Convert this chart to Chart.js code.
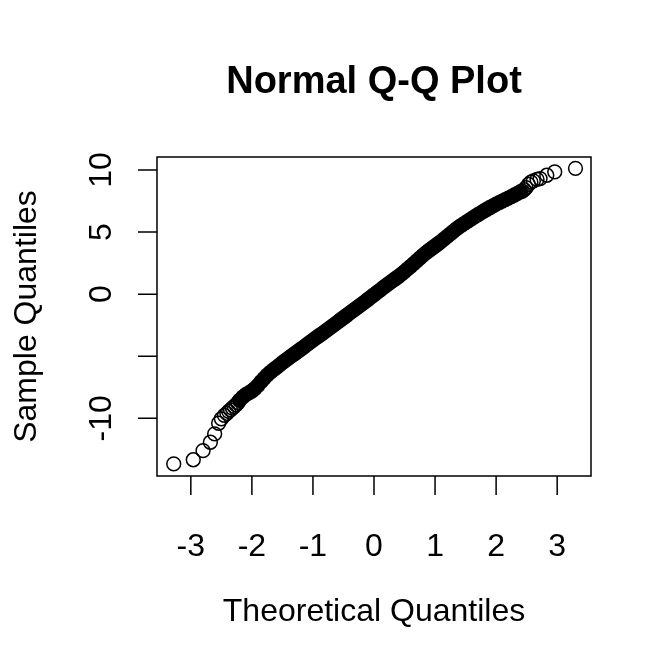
<!DOCTYPE html>
<html>
<head>
<meta charset="utf-8">
<script src="https://cdn.jsdelivr.net/npm/chart.js@4.4.1/dist/chart.umd.min.js"></script>
<style>
html,body{margin:0;padding:0;background:#fff;}
canvas{display:block;}
</style>
</head>
<body>
<canvas id="c" width="672" height="672"></canvas>
<script>
// ---- Data ----
const chartTitle = 'Normal Q-Q Plot';
const xAxisTitle = 'Theoretical Quantiles';
const yAxisTitle = 'Sample Quantiles';

const xTicks = [-3, -2, -1, 0, 1, 2, 3];
const xTickLabels = ['-3', '-2', '-1', '0', '1', '2', '3'];
const yTicks = [-10, -5, 0, 5, 10];
const yTickLabels = ['-10', '', '0', '5', '10'];

const lowerTailTheoretical = [-3.28, -2.96, -2.80, -2.68, -2.61, -2.545, -2.50, -2.45, -2.41, -2.38, -2.35, -2.32, -2.29, -2.26, -2.23];
const lowerTailSample      = [-13.68, -13.34, -12.61, -11.93, -11.26, -10.40, -10.04, -9.77, -9.60, -9.45, -9.32, -9.18, -9.05, -8.92, -8.75];

const bandTheoretical = [
  -2.20, -2.15, -2.10, -2.05, -2.00, -1.95, -1.90, -1.85, -1.80, -1.75,
  -1.70, -1.65, -1.60, -1.55, -1.50, -1.45, -1.40, -1.35, -1.30, -1.25,
  -1.20, -1.15, -1.10, -1.05, -1.00, -0.95, -0.90, -0.85, -0.80, -0.75,
  -0.70, -0.65, -0.60, -0.55, -0.50, -0.45, -0.40, -0.35, -0.30, -0.25,
  -0.20, -0.15, -0.10, -0.05, 0.00, 0.05, 0.10, 0.15, 0.20, 0.25,
  0.30, 0.35, 0.40, 0.45, 0.50, 0.55, 0.60, 0.65, 0.70, 0.75,
  0.80, 0.85, 0.90, 0.95, 1.00, 1.05, 1.10, 1.15, 1.20, 1.25,
  1.30, 1.35, 1.40, 1.45, 1.50, 1.55, 1.60, 1.65, 1.70, 1.75,
  1.80, 1.85, 1.90, 1.95, 2.00, 2.05, 2.10, 2.15, 2.20, 2.25,
  2.30, 2.35, 2.40
];
const bandSample = [
  -8.55, -8.30, -8.10, -7.95, -7.80, -7.60, -7.35, -7.05, -6.78, -6.52,
  -6.30, -6.10, -5.92, -5.72, -5.52, -5.33, -5.15, -4.97, -4.80, -4.62,
  -4.44, -4.26, -4.07, -3.88, -3.70, -3.52, -3.35, -3.18, -3.00, -2.82,
  -2.63, -2.45, -2.27, -2.08, -1.90, -1.72, -1.53, -1.35, -1.17, -0.98,
  -0.80, -0.62, -0.43, -0.24, -0.05, 0.14, 0.33, 0.52, 0.71, 0.89,
  1.07, 1.24, 1.42, 1.62, 1.82, 2.03, 2.24, 2.46, 2.68, 2.90,
  3.12, 3.32, 3.52, 3.70, 3.88, 4.06, 4.25, 4.45, 4.65, 4.86,
  5.06, 5.26, 5.44, 5.60, 5.76, 5.92, 6.08, 6.24, 6.40, 6.55,
  6.70, 6.84, 6.98, 7.12, 7.25, 7.38, 7.50, 7.62, 7.74, 7.86,
  7.99, 8.12, 8.25
];

const upperTailTheoretical = [2.43, 2.46, 2.49, 2.53, 2.57, 2.61, 2.67, 2.72, 2.83, 2.96, 3.30];
const upperTailSample      = [8.30, 8.42, 8.58, 8.85, 9.02, 9.12, 9.25, 9.31, 9.58, 9.85, 10.14];

const xRange = [-3.554, 3.554];
const yRange = [-14.65, 11.05];

// ---- Build ----
const toPoints = (xs, ys) => xs.map((x, i) => ({x: x, y: ys[i]}));
const FONT = '"Liberation Sans", Arial, Helvetica, sans-serif';
const MARK_R = 6.9;
const MARK_W = 1.5;

const rAxisPlugin = {
  id: 'rAxis',
  afterDraw(chart) {
    const ctx = chart.ctx;
    const a = chart.chartArea;
    const xs = chart.scales.x, ys = chart.scales.y;
    ctx.save();
    ctx.strokeStyle = '#000';
    ctx.fillStyle = '#000';
    ctx.lineWidth = 1.5;
    // box
    ctx.strokeRect(a.left, a.top, a.right - a.left, a.bottom - a.top);
    // ticks
    const tickLen = 19;
    ctx.beginPath();
    xTicks.forEach(v => {
      const px = xs.getPixelForValue(v);
      ctx.moveTo(px, a.bottom);
      ctx.lineTo(px, a.bottom + tickLen);
    });
    yTicks.forEach(v => {
      const py = ys.getPixelForValue(v);
      ctx.moveTo(a.left, py);
      ctx.lineTo(a.left - tickLen, py);
    });
    ctx.stroke();
    // x tick labels
    ctx.font = '32px ' + FONT;
    ctx.textAlign = 'center';
    ctx.textBaseline = 'alphabetic';
    xTicks.forEach((v, i) => {
      ctx.fillText(xTickLabels[i], xs.getPixelForValue(v), 556);
    });
    // y tick labels (rotated)
    yTicks.forEach((v, i) => {
      if (!yTickLabels[i]) return;
      ctx.save();
      ctx.translate(111, ys.getPixelForValue(v));
      ctx.rotate(-Math.PI / 2);
      ctx.fillText(yTickLabels[i], 0, 0);
      ctx.restore();
    });
    // axis titles
    ctx.fillText(xAxisTitle, (a.left + a.right) / 2, 621);
    ctx.save();
    ctx.translate(36, (a.top + a.bottom) / 2);
    ctx.rotate(-Math.PI / 2);
    ctx.fillText(yAxisTitle, 0, 0);
    ctx.restore();
    // main title
    ctx.font = 'bold 38px ' + FONT;
    ctx.fillText(chartTitle, (a.left + a.right) / 2, 93);
    ctx.restore();
  }
};

new Chart(document.getElementById('c'), {
  type: 'scatter',
  data: {
    datasets: [
      {
        label: 'band',
        data: toPoints(bandTheoretical, bandSample),
        pointRadius: MARK_R,
        pointBorderWidth: MARK_W,
        borderColor: '#000',
        backgroundColor: '#000',
        pointHoverRadius: MARK_R
      },
      {
        label: 'lower tail',
        data: toPoints(lowerTailTheoretical, lowerTailSample),
        pointRadius: MARK_R,
        pointBorderWidth: MARK_W,
        borderColor: '#000',
        backgroundColor: 'rgba(0,0,0,0)',
        pointHoverRadius: MARK_R
      },
      {
        label: 'upper tail',
        data: toPoints(upperTailTheoretical, upperTailSample),
        pointRadius: MARK_R,
        pointBorderWidth: MARK_W,
        borderColor: '#000',
        backgroundColor: 'rgba(0,0,0,0)',
        pointHoverRadius: MARK_R
      }
    ]
  },
  options: {
    responsive: false,
    devicePixelRatio: 1,
    animation: false,
    layout: { padding: { left: 157, top: 157, right: 81, bottom: 196 } },
    plugins: { legend: { display: false }, tooltip: { enabled: false }, title: { display: false } },
    events: [],
    scales: {
      x: { type: 'linear', min: xRange[0], max: xRange[1], display: false },
      y: { type: 'linear', min: yRange[0], max: yRange[1], display: false }
    }
  },
  plugins: [rAxisPlugin]
});
</script>
</body>
</html>
